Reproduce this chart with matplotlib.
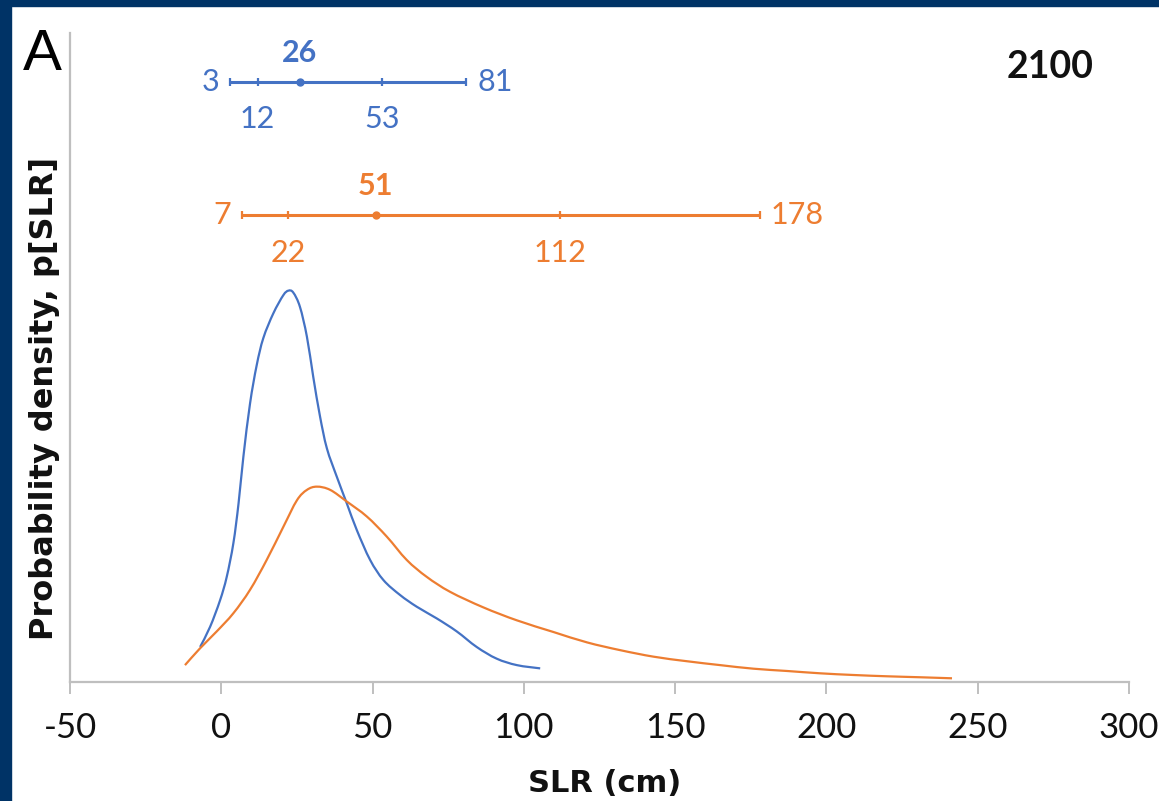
import numpy as np
import matplotlib
matplotlib.use("Agg")
import matplotlib.pyplot as plt
from matplotlib.patches import Rectangle, PathPatch
from matplotlib.path import Path

plt.rcParams["axes.unicode_minus"] = False

# probability density of sea-level rise by 2100 (arbitrary density units)
blue_x = [-7.0, -3.7, -0.4, 1.8, 4.0, 5.7, 7.3, 9.5, 11.7, 13.9, 17.2, 20.5, 22.2,
          23.8, 26.0, 28.3, 30.4, 32.6, 34.9, 38.2, 41.5, 44.8, 49.2, 53.6, 59.1,
          64.6, 71.2, 77.8, 84.4, 91.0, 97.7, 105.4]
blue_y = [0.054, 0.085, 0.126, 0.162, 0.214, 0.275, 0.347, 0.429, 0.488, 0.530,
          0.568, 0.596, 0.603, 0.600, 0.578, 0.532, 0.470, 0.410, 0.360, 0.316,
          0.275, 0.234, 0.188, 0.157, 0.134, 0.116, 0.098, 0.078, 0.054, 0.036,
          0.026, 0.021]

orange_x = [-12.0, -7.0, -1.5, 4.0, 9.5, 15.0, 20.5, 25.0, 28.3, 31.6, 36.0, 41.5,
            48.1, 54.7, 61.3, 67.9, 75.6, 86.6, 97.7, 109.8, 120.9, 131.9, 142.9,
            153.9, 164.9, 175.9, 186.9, 197.9, 208.9, 220.0, 231.0, 241.5]
orange_y = [0.026, 0.052, 0.078, 0.106, 0.142, 0.188, 0.239, 0.280, 0.296, 0.301,
            0.296, 0.278, 0.255, 0.224, 0.188, 0.162, 0.139, 0.115, 0.095, 0.077,
            0.061, 0.049, 0.039, 0.032, 0.026, 0.0205, 0.017, 0.0134, 0.0108,
            0.0088, 0.0073, 0.0057]

# 5/17/50/83/95 percentiles shown as range bars
blue_q = [3, 12, 26, 53, 81]
orange_q = [7, 22, 51, 112, 178]
blue_row = 0.925
orange_row = 0.719

BLUE = "#4472C4"
ORANGE = "#ED7D31"
NAVY = "#003366"
GREY = "#BFBFBF"
INK = "#111111"


def smooth_path(xs, ys):
    """Catmull-Rom through the points, written as cubic Bezier segments."""
    p = np.column_stack([xs, ys])
    ext = np.vstack([p[0], p, p[-1]])
    verts = [p[0]]
    codes = [Path.MOVETO]
    for i in range(len(p) - 1):
        p0, p1, p2, p3 = ext[i], ext[i + 1], ext[i + 2], ext[i + 3]
        verts += [p1 + (p2 - p0) / 6, p2 - (p3 - p1) / 6, p2]
        codes += [Path.CURVE4] * 3
    return Path(verts, codes)


W, H = 1159, 801
fig = plt.figure(figsize=(W / 100, H / 100), dpi=100)
fig.patch.set_facecolor("white")
fig.patches.append(Rectangle((0, 1 - 6 / H), 1, 6 / H, transform=fig.transFigure,
                             color=NAVY, zorder=0))
fig.patches.append(Rectangle((0, 0), 11 / W, 1, transform=fig.transFigure,
                             color=NAVY, zorder=0))

ax = fig.add_axes([70 / W, (H - 682) / H, (1129 - 70) / W, (682 - 33) / H])
ax.set_xlim(-50, 300)
ax.set_ylim(0, 1)
for s in ("top", "right"):
    ax.spines[s].set_visible(False)
for s in ("left", "bottom"):
    ax.spines[s].set_color(GREY)
    ax.spines[s].set_linewidth(1.6)
ax.set_yticks([])
ax.set_xticks(np.arange(-50, 301, 50))
ax.tick_params(axis="x", direction="out", length=8.5, width=1.4, color=GREY,
               pad=13, labelsize=25, labelcolor=INK)
for lbl in ax.get_xticklabels():
    lbl.set_fontfamily("Lato")

ax.add_patch(PathPatch(smooth_path(blue_x, blue_y), fill=False, ec=BLUE, lw=1.6))
ax.add_patch(PathPatch(smooth_path(orange_x, orange_y), fill=False, ec=ORANGE, lw=1.6))


def range_bar(q, y, color):
    ax.plot([q[0], q[-1]], [y, y], color=color, lw=2.2, solid_capstyle="butt")
    ax.plot([q[0], q[1], q[3], q[4]], [y] * 4, ls="none", marker="|",
            ms=6, mew=1.6, color=color)
    ax.plot([q[2]], [y], ls="none", marker="o", ms=5, color=color)
    txt = dict(color=color, fontsize=22, family="Lato", textcoords="offset points")
    ax.annotate(str(q[0]), (q[0], y), xytext=(-8, 0), ha="right", va="center", **txt)
    ax.annotate(str(q[4]), (q[4], y), xytext=(8, 0), ha="left", va="center", **txt)
    ax.annotate(str(q[1]), (q[1], y), xytext=(0, -27), ha="center", va="center", **txt)
    ax.annotate(str(q[3]), (q[3], y), xytext=(0, -27), ha="center", va="center", **txt)
    ax.annotate(str(q[2]), (q[2], y), xytext=(0, 21), ha="center", va="center",
                fontweight="bold", **txt)


range_bar(blue_q, blue_row, BLUE)
range_bar(orange_q, orange_row, ORANGE)

fig.text(42 / W, 1 - 70 / H, "A", fontsize=42, family="Liberation Sans",
         ha="center", va="baseline")
fig.text(1050 / W, 1 - 78 / H, "2100", fontsize=27, family="Lato",
         fontweight="bold", ha="center", va="baseline", color=INK)
fig.text(45 / W, 1 - 398 / H, "Probability density, p[SLR]", fontsize=23,
         family="DejaVu Sans", fontweight="bold", rotation=90, ha="center",
         va="center", color=INK)
fig.text(605 / W, 1 - 792 / H, "SLR (cm)", fontsize=22, family="DejaVu Sans",
         fontweight="bold", ha="center", va="baseline", color=INK)

fig.savefig("out.png", dpi=100)
